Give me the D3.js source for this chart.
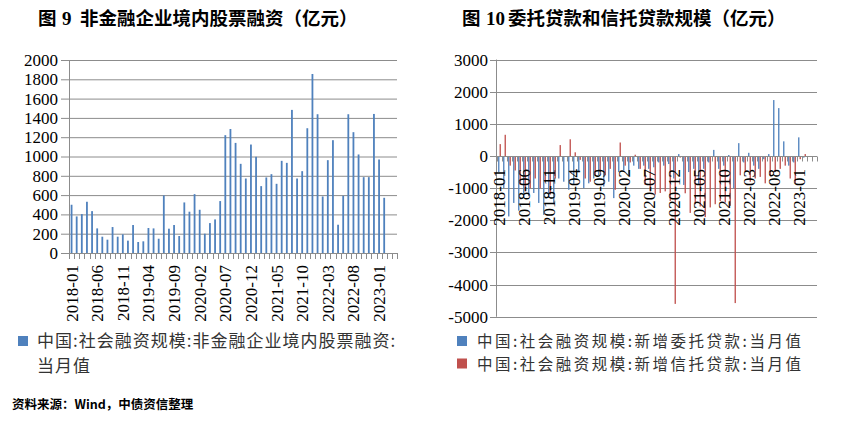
<!DOCTYPE html>
<html><head><meta charset="utf-8">
<script src="https://cdn.jsdelivr.net/npm/d3@7"></script>
<style>
html,body{margin:0;padding:0;background:#fff;}
svg{display:block;}
.num{font-family:"Liberation Serif","Times New Roman",Tinos,"DejaVu Serif",serif;}
.cjk{font-family:"Noto Sans CJK SC","Noto Sans",sans-serif;}
</style></head>
<body>
<svg id="c" width="846" height="422"></svg>
<script>
// ---------- data ----------
const months = [];
for (let y = 2018; y <= 2023; y++) for (let m = 1; m <= 12; m++) {
  if (y === 2023 && m > 4) break;
  months.push(y + "-" + String(m).padStart(2, "0"));
}
// Fig 9: 非金融企业境内股票融资 (2018-01 .. 2023-02)
const equityValues = [500,379,403,531,434,255,169,138,269,169,193,128,
  290,114,121,259,255,148,597,252,290,176,524,428,
  610,448,200,310,348,538,1221,1285,1141,924,772,1124,
  997,693,783,817,717,955,934,1483,772,848,1293,1855,
  1438,586,962,1169,293,593,1438,1252,1021,786,786,1441,
  969,572];
// Fig 10: 新增委托贷款 (blue) and 新增信托贷款 (red)
const entrustedValues = [-500,-1000,-1880,-1460,-1700,-1300,-1250,-1150,-1460,-1830,-1300,-1500,
  -700,-800,-1050,-900,-500,-1000,-850,-700,-600,-950,-800,-1310,
  -500,-450,-590,-300,-400,-300,-400,-350,-200,-300,-250,-700,
  60,-900,-500,-400,-900,-400,-200,190,-400,-300,30,-1000,
  400,-200,100,-300,-400,-100,60,1740,1490,456,-300,-200,
  580,-50];
const trustValues = [370,660,-300,-450,-900,-1100,-1000,-700,-1000,-800,-1200,-700,
  340,-30,520,115,-120,-700,-800,-600,-500,-600,-400,-1050,
  420,-300,-200,40,-400,-900,-1100,-1200,-1150,-1100,-1400,-4600,
  -50,-1160,-1770,-1500,-1570,-1900,-1600,-1500,-1400,-1450,-1550,-4575,
  -600,-500,-800,-700,-650,-850,-600,-500,-400,-300,-700,-850,
  -100,60];
const leftTicks = d3.range(0, 2001, 200);
const rightTicks = d3.range(-5000, 3001, 1000);
const labelMonths = months.filter((d, i) => i % 5 === 0 && i <= 60);
const title1 = ["图", "9", "非金融企业境内股票融资（亿元）"];
const title2 = ["图", "10", "委托贷款和信托贷款规模（亿元）"];
const legend1 = ["中国:社会融资规模:非金融企业境内股票融资:", "当月值"];
const legend2 = ["中国:社会融资规模:新增委托贷款:当月值", "中国:社会融资规模:新增信托贷款:当月值"];
const source = "资料来源：Wind，中债资信整理";

// ---------- styles ----------
const BLUE = "#4F81BD", RED = "#C0504D", GRID = "#8c8c8c";

const svg = d3.select("#c");

function title(parts, x0, xd, xr) {
  const t = svg.append("text").attr("y", 25).attr("font-weight", 700).attr("font-size", 18.5).attr("fill", "#000");
  t.append("tspan").attr("class", "cjk").attr("x", x0).text(parts[0]);
  t.append("tspan").attr("class", "num").attr("x", xd).attr("font-size", 19).text(parts[1]);
  t.append("tspan").attr("class", "cjk").attr("x", xr).text(parts[2]);
}
title(title1, 38, 62, 80);
title(title2, 462, 486, 508);
svg.append("text").attr("class", "cjk").attr("x", 12).attr("y", 409).text(source)
  .attr("font-weight", 700).attr("font-size", 12.5).attr("fill", "#000");

// ---------- left chart ----------
{
  const x = d3.scaleBand().domain(months).range([69, 397]).padding(0);
  const y = d3.scaleLinear().domain([0, 2000]).range([253, 60]);
  const g = svg.append("g");
  g.selectAll("line.grid").data(leftTicks).enter().append("line")
    .attr("x1", 61).attr("x2", 397).attr("y1", d => y(d) + 0.5).attr("y2", d => y(d) + 0.5)
    .attr("stroke", GRID).attr("stroke-width", 1);
  g.append("line").attr("x1", 69.5).attr("x2", 69.5).attr("y1", y(2000)).attr("y2", y(0) + 6)
    .attr("stroke", GRID);
  g.selectAll("text.yl").data(leftTicks).enter().append("text").attr("class", "num")
    .attr("x", 58).attr("y", d => y(d)).attr("dy", "0.35em").attr("text-anchor", "end")
    .attr("font-size", 17).attr("fill", "#000").text(d => d);
  const bw = 1.8;
  g.selectAll("rect.bar").data(equityValues).enter().append("rect")
    .attr("x", (d, i) => x(months[i]) + x.bandwidth() / 2 - bw / 2)
    .attr("width", bw)
    .attr("y", d => y(d)).attr("height", d => y(0) - y(d))
    .attr("fill", BLUE);
  g.selectAll("line.xt").data(months.concat(["end"])).enter().append("line")
    .attr("x1", (d, i) => Math.round(69 + i * x.bandwidth()) + 0.5)
    .attr("x2", (d, i) => Math.round(69 + i * x.bandwidth()) + 0.5)
    .attr("y1", y(0)).attr("y2", y(0) + 6).attr("stroke", GRID);
  g.selectAll("text.xl").data(labelMonths).enter().append("text").attr("class", "num")
    .attr("transform", d => `translate(${x(d) + x.bandwidth() / 2},265) rotate(-90)`)
    .attr("dy", "0.35em").attr("text-anchor", "end")
    .attr("font-size", 17).attr("fill", "#000").text(d => d);
  g.append("rect").attr("x", 18).attr("y", 336).attr("width", 10).attr("height", 10).attr("fill", BLUE);
  g.selectAll("text.lg").data(legend1).enter().append("text").attr("class", "cjk")
    .attr("x", 37).attr("y", (d, i) => 347 + i * 25).text(d => d)
    .attr("font-size", 17).attr("letter-spacing", 1).attr("fill", "#333");
}

// ---------- right chart ----------
{
  const x = d3.scaleBand().domain(months).range([497, 817]).padding(0);
  const y = d3.scaleLinear().domain([-5000, 3000]).range([316.75, 59.55]);
  const inner = d3.scaleBand().domain(["b", "r"]).range([1.1, 3.9]).paddingInner(0.1);
  const g = svg.append("g");
  g.selectAll("line.grid").data(rightTicks).enter().append("line")
    .attr("x1", 490).attr("x2", 817).attr("y1", d => Math.round(y(d)) + 0.5).attr("y2", d => Math.round(y(d)) + 0.5)
    .attr("stroke", GRID).attr("stroke-width", 1);
  g.append("line").attr("x1", 496.5).attr("x2", 496.5).attr("y1", y(3000)).attr("y2", y(-5000))
    .attr("stroke", GRID);
  g.selectAll("text.yl").data(rightTicks).enter().append("text").attr("class", "num")
    .attr("x", 488).attr("y", d => y(d)).attr("dy", "0.35em").attr("text-anchor", "end")
    .attr("font-size", 17).attr("fill", "#000").text(d => d);
  const series = [{key: "b", vals: entrustedValues, color: BLUE}, {key: "r", vals: trustValues, color: RED}];
  series.forEach(s => {
    g.selectAll("rect.bar-" + s.key).data(s.vals).enter().append("rect")
      .attr("x", (d, i) => x(months[i]) + inner(s.key))
      .attr("width", inner.bandwidth())
      .attr("y", d => y(Math.max(0, d))).attr("height", d => Math.abs(y(d) - y(0)))
      .attr("fill", s.color);
  });
  const y0 = Math.round(y(0)) + 0.5;
  g.append("line").attr("x1", 490).attr("x2", 817).attr("y1", y0).attr("y2", y0).attr("stroke", GRID);
  g.selectAll("line.xt").data(months.concat(["end"])).enter().append("line")
    .attr("x1", (d, i) => Math.round(497 + i * x.bandwidth()) + 0.5)
    .attr("x2", (d, i) => Math.round(497 + i * x.bandwidth()) + 0.5)
    .attr("y1", y0).attr("y2", y0 + 5).attr("stroke", GRID);
  g.selectAll("text.xl").data(labelMonths).enter().append("text").attr("class", "num")
    .attr("transform", d => `translate(${x(d) + x.bandwidth() / 2},169) rotate(-90)`)
    .attr("dy", "0.35em").attr("text-anchor", "end")
    .attr("font-size", 17).attr("fill", "#000").text(d => d);
  const lg = g.selectAll("g.lg").data(legend2).enter().append("g");
  lg.append("rect").attr("x", 457).attr("y", (d, i) => 336 + i * 22.5).attr("width", 10).attr("height", 10)
    .attr("fill", (d, i) => i === 0 ? BLUE : RED);
  lg.append("text").attr("class", "cjk").attr("x", 477).attr("y", (d, i) => 347 + i * 22.5).text(d => d)
    .attr("font-size", 15.5).attr("letter-spacing", 2.5).attr("fill", "#333");
}
</script>
</body></html>
